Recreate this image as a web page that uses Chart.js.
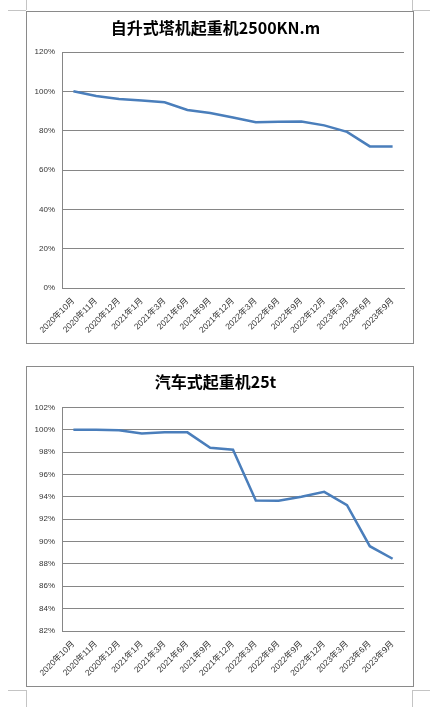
<!DOCTYPE html>
<html>
<head>
<meta charset="utf-8">
<script src="https://cdn.jsdelivr.net/npm/chart.js@4.4.0/dist/chart.umd.min.js"></script>
<style>
  body { margin: 0; background: #fff; width: 440px; height: 707px; position: relative; overflow: hidden; }
  .box { position: absolute; left: 26px; width: 388px; border: 1px solid #8a8a8a; box-sizing: border-box; background: #fff; }
  .mark { position: absolute; background: #c4c4c4; }
</style>
</head>
<body>
<!-- marcas de la página -->
<div class="mark" style="left:8px;top:10px;width:18px;height:1px"></div>
<div class="mark" style="left:26px;top:0;width:1px;height:10px"></div>
<div class="mark" style="left:412px;top:10px;width:18px;height:1px"></div>
<div class="mark" style="left:412px;top:0;width:1px;height:10px"></div>
<div class="mark" style="left:8px;top:690px;width:18px;height:1px"></div>
<div class="mark" style="left:26px;top:690px;width:1px;height:17px"></div>
<div class="mark" style="left:412px;top:690px;width:18px;height:1px"></div>
<div class="mark" style="left:412px;top:690px;width:1px;height:17px"></div>

<div class="box" style="top:11px;height:333px"><canvas id="grafico1"></canvas></div>
<div class="box" style="top:366px;height:321px"><canvas id="grafico2"></canvas></div>

<script>
// Datos
const meses = ['2020年10月', '2020年11月', '2020年12月', '2021年1月', '2021年3月', '2021年6月', '2021年9月',
  '2021年12月', '2022年3月', '2022年6月', '2022年9月', '2022年12月', '2023年3月', '2023年6月', '2023年9月'];
const tituloTorre = '自升式塔机起重机2500KN.m';
const tituloCamion = '汽车式起重机25t';
const torre = [100, 97.6, 96.1, 95.3, 94.4, 90.5, 89.0, 86.7, 84.3, 84.5, 84.6, 82.7, 79.4, 72.0, 72.0];
const camion = [100, 100, 99.95, 99.65, 99.76, 99.76, 98.38, 98.2, 93.67, 93.64, 94.0, 94.44, 93.26, 89.58, 88.46];
const ejeTorre = { min: 0, max: 120, paso: 20 };
const ejeCamion = { min: 82, max: 102, paso: 2 };

const gris = '#868686';

function crearGrafico(canvas, titulo, serie, eje, tituloArriba, tituloAbajo) {
  const config = {
    type: 'line',
    data: {
      labels: meses,
      datasets: [{
        data: serie,
        borderColor: '#4A7EBB',
        borderWidth: 2.5,
        pointRadius: 0,
        tension: 0,
        fill: false
      }]
    },
    options: {
      responsive: true,
      maintainAspectRatio: false,
      animation: false,
      layout: { padding: { top: 0, left: 0, right: 9, bottom: 0 } },
      plugins: {
        legend: { display: false },
        tooltip: { enabled: false },
        title: {
          display: true,
          text: titulo,
          color: '#000',
          font: { family: '"Noto Sans CJK SC", sans-serif', size: 16, weight: 'bold', lineHeight: 1.2 },
          padding: { top: tituloArriba, bottom: tituloAbajo }
        }
      },
      scales: {
        x: {
          offset: true,
          grid: { display: false, drawTicks: false },
          border: { display: true, color: gris, width: 1 },
          ticks: {
            minRotation: 45,
            maxRotation: 45,
            autoSkip: false,
            padding: 8,
            color: '#333',
            font: { family: '"Liberation Sans", "Noto Sans CJK SC", sans-serif', size: 8.5 }
          },
          afterFit: (s) => { s.height = 55; }
        },
        y: {
          min: eje.min,
          max: eje.max,
          grid: { color: gris, lineWidth: 1, drawTicks: false },
          border: { display: true, color: gris, width: 1 },
          ticks: {
            stepSize: eje.paso,
            padding: 7,
            color: '#333',
            font: { family: '"Liberation Sans", sans-serif', size: 8 },
            callback: (v) => v + '%'
          },
          afterFit: (s) => { s.width = 35; }
        }
      }
    }
  };
  return new Chart(canvas, config);
}

crearGrafico(document.getElementById('grafico1'), tituloTorre, torre, ejeTorre, 6.2, 14.6);
crearGrafico(document.getElementById('grafico2'), tituloCamion, camion, ejeCamion, 5.1, 16);
</script>
</body>
</html>
